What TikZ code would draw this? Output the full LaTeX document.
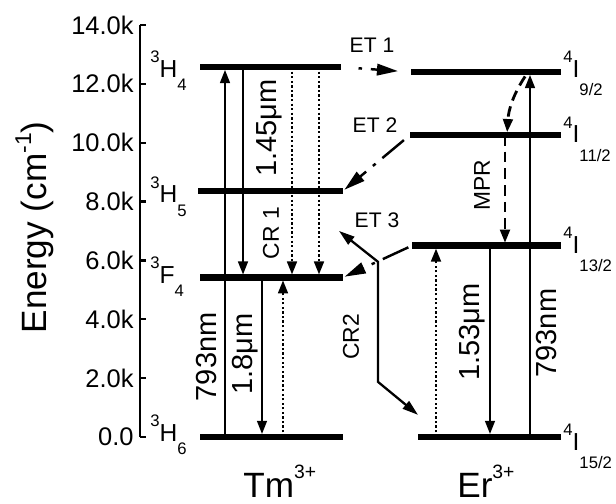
\documentclass[tikz,border=0pt]{standalone}
\usepackage{fontspec}
\setmainfont{Liberation Sans}
\usetikzlibrary{arrows.meta}

% term symbol: [lowering of subscript]{superscript}{letter}{subscript}
\newcommand{\term}[4][7.5pt]{\raisebox{8.5pt}{\fontsize{9.5}{9.5}\selectfont #2}#3\raisebox{-#1}{\fontsize{9.5}{9.5}\selectfont #4}}

\tikzset{
  levelbar/.style={line width=3.6pt},
  axisline/.style={line width=1.3pt},
  pump/.style={line width=1.3pt, -{Triangle[length=7.5pt,width=5.5pt]}, shorten >=1.6pt},
  emit/.style={pump},
  dotarrow/.style={pump, line width=1.5pt, dash pattern=on 1.3pt off 1.3pt},
  mprline/.style={pump, line width=1.6pt, dash pattern=on 6pt off 3.5pt},
  etline/.style={line width=1.4pt, -{Triangle[length=12pt,width=6.5pt]},
    dash pattern=on 16pt off 5pt on 2pt off 5pt},
  crline/.style={line width=1.3pt,
    {Triangle[length=9pt,width=5.5pt]}-{Triangle[length=9pt,width=5.5pt]}},
  ticklbl/.style={anchor=east, inner sep=0pt, font=\fontsize{14.5}{14.5}\selectfont},
  termlbl/.style={anchor=base west, inner sep=0pt, font=\fontsize{14}{14}\selectfont},
  wavelbl/.style={rotate=90, inner sep=0pt, font=\fontsize{16.5}{16.5}\selectfont},
  proclbl/.style={inner sep=0pt, font=\fontsize{13}{13}\selectfont},
  ionlbl/.style={anchor=base west, inner sep=0pt, font=\fontsize{20}{20}\selectfont}
}

\begin{document}
\begin{tikzpicture}[x=0.02cm, y=0.5886cm]
\useasboundingbox (0,-2.2766) rectangle (616,14.849);

% energy axis
\draw[axisline] (140,0) -- (140,14);
\foreach \e/\t in {0/0.0, 2/2.0k, 4/4.0k, 6/6.0k, 8/8.0k, 10/10.0k, 12/12.0k, 14/14.0k}{
  \draw[axisline] (140,\e) -- ++(6,0);
  \node[ticklbl] (tick\e) at (134,\e) {\t};
}
\node[rotate=90, anchor=base, inner sep=0pt, font=\fontsize{20}{20}\selectfont] (ylabel)
  at (47,7.12) {Energy (cm\raisebox{9pt}{\fontsize{13}{13}\selectfont -1})};

% levels
\foreach \lv/\xa/\xb/\e in {tH4/200/341/12.57, tH5/198/343/8.36, tF4/200/343/5.42,
    tH6/200/343/0, eI9/411/561/12.40, eI11/410/561/10.26, eI13/412/561/6.50, eI15/418/561/0}{
  \coordinate (\lv) at (\xa,\e);
  \coordinate (\lv R) at (\xb,\e);
  \draw[levelbar] (\lv) -- (\lv R);
}

% level names
\node[termlbl] (ntH4) at (150,12.23) {\term{3}{H}{4}};
\node[termlbl] (ntH5) at (150,7.95) {\term{3}{H}{5}};
\node[termlbl] (ntF4) at (150,5.23) {\term{3}{F}{4}};
\node[termlbl] (ntH6) at (150,-0.14) {\term{3}{H}{6}};
\node[termlbl] (neI9) at (563,12.23) {\term[10.5pt]{4}{I}{9/2}};
\node[termlbl] (neI11) at (563,9.99) {\term[10.5pt]{4}{I}{11/2}};
\node[termlbl] (neI13) at (563,6.25) {\term[10.5pt]{4}{I}{13/2}};
\node[termlbl] (neI15) at (563,-0.45) {\term[10.5pt]{4}{I}{15/2}};

% Tm transitions
\draw[pump] (225,0 |- tH6) -- (225,0 |- tH4);
\draw[emit] (243,0 |- tH4) -- (243,0 |- tF4);
\draw[emit] (262,0 |- tF4) -- (262,0 |- tH6);
\draw[dotarrow] (283,0 |- tH6) -- (283,0 |- tF4);
\draw[dotarrow] (292,0 |- tH4) -- (292,0 |- tF4);
\draw[dotarrow] (319,0 |- tH4) -- (319,0 |- tF4);

% Er transitions
\draw[pump] (530,0 |- eI15) -- (530,0 |- eI9);
\draw[mprline, shorten <=3pt] (528,0 |- eI9) to[bend right=15] (507,0 |- eI11);
\draw[mprline] (505,0 |- eI11) -- (505,0 |- eI13);
\draw[emit] (490,0 |- eI13) -- (490,0 |- eI15);
\draw[dotarrow] (436,0 |- eI15) -- (436,0 |- eI13);

% energy transfer
\draw[etline, shorten <=5pt, shorten >=7.4pt, dash phase=16pt] (tH4R) -- (eI9);
\draw[etline, shorten >=1pt, dash phase=23.5pt] (eI11) -- (tH5R);
\draw[etline, shorten >=1pt, dash phase=25.7pt] (eI13) -- (tF4R);

% cross relaxation CR2
\coordinate (cr2a) at (339,7.00);
\coordinate (cr2b) at (378,5.95);
\coordinate (cr2c) at (378,1.87);
\coordinate (cr2d) at (418,0.75);
\draw[crline] (cr2a) -- (cr2b) -- (cr2c) -- (cr2d);

% transition labels
\node[wavelbl] (w145) at (269,10.50) {1.45μm};
\node[wavelbl] (w793t) at (207,2.72) {793nm};
\node[wavelbl] (w18) at (245,2.82) {1.8μm};
\node[wavelbl] (w153) at (472,3.57) {1.53μm};
\node[wavelbl] (w793e) at (547,3.53) {793nm};
\node[proclbl, rotate=90] (pcr1) at (271,6.93) {CR 1};
\node[proclbl, rotate=90] (pmpr) at (482,8.56) {MPR};
\node[proclbl, rotate=90] (pcr2) at (351,3.40) {CR2};
\node[proclbl, font=\fontsize{12}{12}\selectfont] (pet1) at (372,13.32) {ET 1};
\node[proclbl, font=\fontsize{12}{12}\selectfont] (pet2) at (375,10.60) {ET 2};
\node[proclbl, font=\fontsize{12}{12}\selectfont] (pet3) at (377,7.37) {ET 3};

% ions
\node[ionlbl] (tm) at (243,-2.06) {Tm\raisebox{11pt}{\fontsize{11}{11}\selectfont 3+}};
\node[ionlbl] (er) at (457,-2.06) {Er\raisebox{11pt}{\fontsize{11}{11}\selectfont 3+}};
\end{tikzpicture}
\end{document}
